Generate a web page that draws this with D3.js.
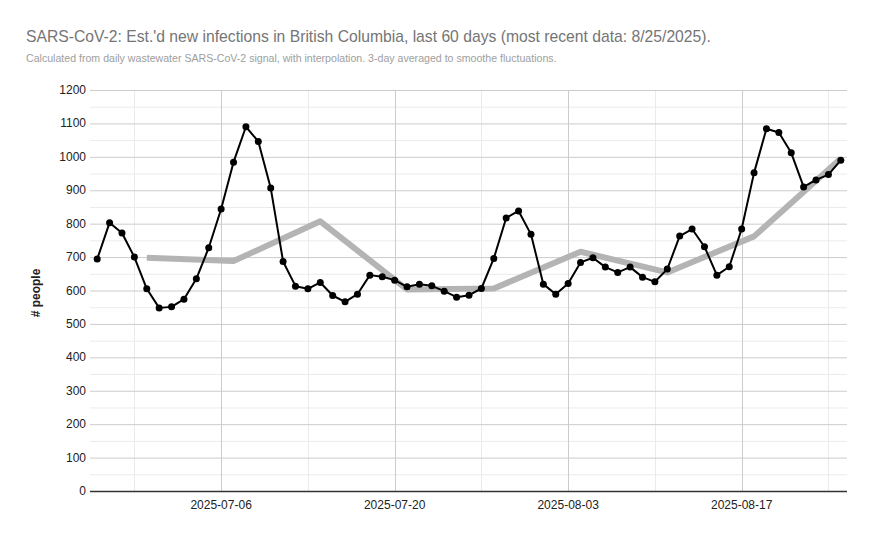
<!DOCTYPE html>
<html>
<head>
<meta charset="utf-8">
<script src="https://cdn.jsdelivr.net/npm/d3@7"></script>
<style>
  body { margin: 0; background: #fff; }
  text { font-family: Arial, "Liberation Sans", sans-serif; }
</style>
</head>
<body>
<svg id="chart" width="873" height="539"></svg>
<script>
// the data
var firstDay = "2025-06-26", lastDay = "2025-08-25";
// daily estimate, 3-day averaged
var daily = [694, 803, 772, 700, 605, 548, 551, 574, 635, 728,
             844, 984, 1090, 1046, 907, 687, 613, 605, 624, 585,
             566, 589, 646, 641, 631, 611, 619, 614, 598, 580,
             586, 606, 696, 817, 838, 768, 619, 589, 621, 684,
             698, 670, 654, 670, 640, 626, 664, 763, 784, 731,
             646, 671, 784, 952, 1084, 1073, 1012, 910, 931, 947, 990];
// weekly (grey) line
var weeklyDates = ["2025-06-30", "2025-07-07", "2025-07-14", "2025-07-21", "2025-07-28",
                   "2025-08-04", "2025-08-11", "2025-08-18", "2025-08-25"];
var weekly = [698, 688, 807, 603, 606, 716, 654, 762, 995];
// axis ticks
var majorTicks = ["2025-07-06", "2025-07-20", "2025-08-03", "2025-08-17"];
var minorTicks = ["2025-06-29", "2025-07-13", "2025-07-27", "2025-08-10", "2025-08-24"];
var yTicks = d3.range(0, 1201, 100);
var yMinor = d3.range(50, 1200, 100);

var parse = d3.timeParse("%Y-%m-%d");
var fmt = d3.timeFormat("%Y-%m-%d");
var half = 12 * 3600 * 1000;

var d0 = parse(firstDay), d1 = parse(lastDay);
var days = d3.timeDay.range(d0, d3.timeDay.offset(d1, 1));
var dailyData = days.map((d, i) => [d, daily[i]]);
var weeklyData = weeklyDates.map((d, i) => [parse(d), weekly[i]]);

var scX = d3.scaleTime().domain([new Date(+d0 - half), new Date(+d1 + half)]).range([91, 847]);
var scY = d3.scaleLinear().domain([0, 1200]).range([491, 90]);

var svg = d3.select('#chart');
var left = 90, right = 847;

// titles
svg.append('text').attr('x', 26).attr('y', 42)
    .attr('font-size', 15.7).attr('fill', '#757575')
    .text("SARS-CoV-2: Est.'d new infections in British Columbia, last 60 days (most recent data: 8/25/2025).");
svg.append('text').attr('x', 26).attr('y', 62)
    .attr('font-size', 10.6).attr('fill', '#9e9e9e')
    .text("Calculated from daily wastewater SARS-CoV-2 signal, with interpolation. 3-day averaged to smoothe fluctuations.");

// grid
var grid = svg.append('g');
grid.selectAll('.ymin').data(yMinor).enter().append('line')
    .attr('x1', left).attr('x2', right)
    .attr('y1', d => scY(d) + 0.5).attr('y2', d => scY(d) + 0.5)
    .attr('stroke', '#ebebeb');
grid.selectAll('.xmin').data(minorTicks).enter().append('line')
    .attr('x1', d => Math.round(scX(parse(d))) + 0.5).attr('x2', d => Math.round(scX(parse(d))) + 0.5)
    .attr('y1', scY(1200)).attr('y2', scY(0))
    .attr('stroke', '#ebebeb');
grid.selectAll('.ymaj').data(yTicks.filter(d => d > 0)).enter().append('line')
    .attr('x1', left).attr('x2', right)
    .attr('y1', d => scY(d) + 0.5).attr('y2', d => scY(d) + 0.5)
    .attr('stroke', '#cccccc');
grid.selectAll('.xmaj').data(majorTicks).enter().append('line')
    .attr('x1', d => Math.round(scX(parse(d))) + 0.5).attr('x2', d => Math.round(scX(parse(d))) + 0.5)
    .attr('y1', scY(1200)).attr('y2', scY(0))
    .attr('stroke', '#cccccc');

// baseline
svg.append('line').attr('x1', left).attr('x2', right)
    .attr('y1', scY(0) + 0.5).attr('y2', scY(0) + 0.5)
    .attr('stroke', '#333').attr('stroke-width', 1.5);

// y labels
svg.selectAll('.ylab').data(yTicks).enter().append('text')
    .attr('x', 86).attr('y', d => scY(d) + 4)
    .attr('text-anchor', 'end').attr('font-size', 12).attr('fill', '#222')
    .text(d => d);

// x labels
svg.selectAll('.xlab').data(majorTicks).enter().append('text')
    .attr('x', d => scX(parse(d))).attr('y', 509)
    .attr('text-anchor', 'middle').attr('font-size', 12).attr('fill', '#222')
    .text(d => fmt(parse(d)));

// axis title
svg.append('text').attr('transform', 'translate(40,293) rotate(-90)')
    .attr('text-anchor', 'middle').attr('font-size', 12).attr('font-weight', 'bold')
    .attr('fill', '#222').text('# people');

// weekly grey line
var line = d3.line().x(d => scX(d[0])).y(d => scY(d[1]));
svg.append('path').datum(weeklyData).attr('d', line)
    .attr('fill', 'none').attr('stroke', '#b4b4b4').attr('stroke-width', 6)
    .attr('stroke-linejoin', 'round');

// daily black line + dots
svg.append('path').datum(dailyData).attr('d', line)
    .attr('fill', 'none').attr('stroke', '#000').attr('stroke-width', 2)
    .attr('stroke-linejoin', 'round');
svg.selectAll('circle').data(dailyData).enter().append('circle')
    .attr('cx', d => scX(d[0])).attr('cy', d => scY(d[1]))
    .attr('r', 3.5).attr('fill', '#000');
</script>
</body>
</html>
